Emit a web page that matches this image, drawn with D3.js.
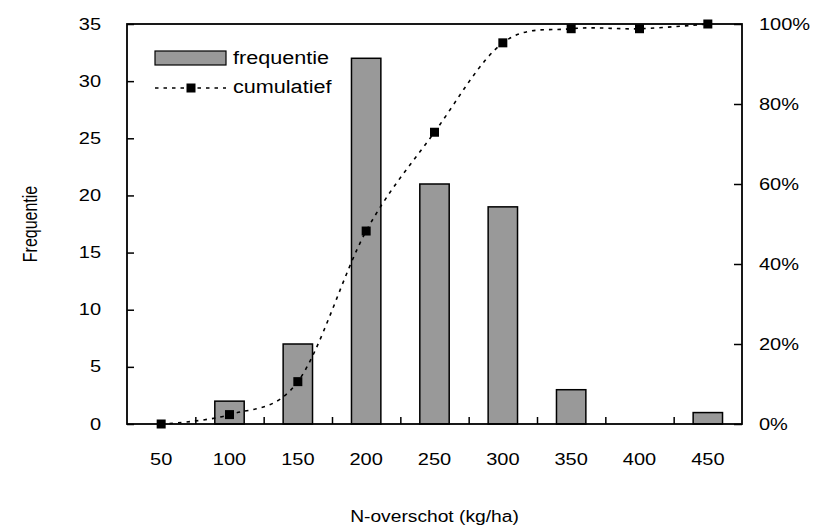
<!DOCTYPE html>
<html>
<head>
<meta charset="utf-8">
<script src="https://cdn.jsdelivr.net/npm/d3@7"></script>
<style>
  html, body { margin: 0; padding: 0; background: #fff; }
  svg { display: block; font-family: "Liberation Sans", Arial, sans-serif; }
  .axis text { font-size: 16px; fill: #000; }
</style>
</head>
<body>
<svg id="chart" width="817" height="527"></svg>
<script>
// N-overschot classes (kg/ha)
const categories = ["50", "100", "150", "200", "250", "300", "350", "400", "450"];
// Number of observations per class
const frequentie = [0, 2, 7, 32, 21, 19, 3, 0, 1];
// Cumulative share per class (fraction of total)
const cumulatief = [0, 0.0235, 0.1059, 0.4824, 0.7294, 0.9529, 0.9882, 0.9882, 1.0];
// Axis ticks
const leftTicks = [0, 5, 10, 15, 20, 25, 30, 35];
const rightTicks = [0, 0.2, 0.4, 0.6, 0.8, 1.0];

const svg = d3.select("#chart");
const W = 817, H = 527;
const m = { top: 24, right: 75, bottom: 103, left: 127 };
const x0 = m.left, x1 = W - m.right, y0 = H - m.bottom, y1 = m.top;

const x = d3.scaleBand().domain(categories).range([x0, x1]).padding(0);
const yL = d3.scaleLinear().domain([0, 35]).range([y0, y1]);
const yR = d3.scaleLinear().domain([0, 1]).range([y0, y1]);
const xSep = d3.scaleLinear().domain([0, categories.length]).range([x0, x1]);

const barW = x.bandwidth() * 0.43;

// Widen horizontal text glyphs a little (wide chart typography)
function widen(sel, k) {
  sel.each(function () {
    const w = this.getComputedTextLength();
    if (w > 0) {
      this.setAttribute("textLength", (w * k).toFixed(2));
      this.setAttribute("lengthAdjust", "spacingAndGlyphs");
    }
  });
}

// Bars
svg.append("g").selectAll("rect")
  .data(frequentie)
  .join("rect")
  .attr("x", (d, i) => x(categories[i]) + (x.bandwidth() - barW) / 2)
  .attr("y", d => yL(d))
  .attr("width", barW)
  .attr("height", d => y0 - yL(d))
  .attr("fill", "#999999")
  .attr("stroke", "#000")
  .attr("stroke-width", 1.5)
  .attr("display", d => d > 0 ? null : "none");

// Left axis (ticks point inward)
const gL = svg.append("g").attr("class", "axis")
  .attr("transform", `translate(${x0},0)`)
  .call(d3.axisLeft(yL).tickValues(leftTicks).tickSize(-7).tickPadding(26));
gL.select(".domain").remove();
gL.selectAll("line").attr("stroke", "#000").attr("stroke-width", 1.5);

// Right axis
const gR = svg.append("g").attr("class", "axis")
  .attr("transform", `translate(${x1},0)`)
  .call(d3.axisRight(yR).tickValues(rightTicks).tickFormat(d3.format(".0%")).tickSize(-8).tickPadding(17));
gR.select(".domain").remove();
gR.selectAll("line").attr("stroke", "#000").attr("stroke-width", 1.5);

// Bottom labels at class centres
const gB = svg.append("g").attr("class", "axis")
  .attr("transform", `translate(0,${y0})`)
  .call(d3.axisBottom(x).tickSize(0).tickPadding(30));
gB.select(".domain").remove();

// Bottom separator ticks between classes
const gS = svg.append("g")
  .attr("transform", `translate(0,${y0})`)
  .call(d3.axisBottom(xSep).tickValues(d3.range(1, categories.length)).tickSize(-7).tickFormat(""));
gS.select(".domain").remove();
gS.selectAll("line").attr("stroke", "#000").attr("stroke-width", 1.5);

// Plot frame
svg.append("rect")
  .attr("x", x0).attr("y", y1)
  .attr("width", x1 - x0).attr("height", y0 - y1)
  .attr("fill", "none").attr("stroke", "#000").attr("stroke-width", 1.8);

// Cumulative smoothed line
const cx = (d, i) => x(categories[i]) + x.bandwidth() / 2;
const line = d3.line()
  .x(cx)
  .y(d => yR(d))
  .curve(d3.curveCardinal.tension(0));
svg.append("path")
  .datum(cumulatief)
  .attr("d", line)
  .attr("fill", "none")
  .attr("stroke", "#000")
  .attr("stroke-width", 1.6)
  .attr("stroke-dasharray", "3.5,5");

// Markers
const ms = 9;
svg.append("g").selectAll("rect")
  .data(cumulatief)
  .join("rect")
  .attr("x", (d, i) => cx(d, i) - ms / 2)
  .attr("y", d => yR(d) - ms / 2)
  .attr("width", ms).attr("height", ms)
  .attr("fill", "#000");

// Legend
const lg = svg.append("g");
lg.append("rect")
  .attr("x", 155).attr("y", 51).attr("width", 71).attr("height", 14)
  .attr("fill", "#999999").attr("stroke", "#000").attr("stroke-width", 1.2);
const lt1 = lg.append("text").attr("x", 233).attr("y", 58).attr("dy", "0.35em")
  .attr("font-size", 18).text("frequentie");
lg.append("line")
  .attr("x1", 155).attr("x2", 226).attr("y1", 88).attr("y2", 88)
  .attr("stroke", "#000").attr("stroke-width", 1.6).attr("stroke-dasharray", "3.5,5");
lg.append("rect")
  .attr("x", 191 - ms / 2).attr("y", 88 - ms / 2).attr("width", ms).attr("height", ms)
  .attr("fill", "#000");
const lt2 = lg.append("text").attr("x", 233).attr("y", 87).attr("dy", "0.35em")
  .attr("font-size", 18).text("cumulatief");

// Axis titles
const xt = svg.append("text")
  .attr("x", (x0 + x1) / 2).attr("y", 516).attr("dy", "0.35em")
  .attr("text-anchor", "middle").attr("font-size", 16)
  .text("N-overschot (kg/ha)");
svg.append("text")
  .attr("transform", `translate(30,${(y0 + y1) / 2}) rotate(-90) scale(1,1.22)`)
  .attr("dy", "0.35em")
  .attr("text-anchor", "middle").attr("font-size", 16)
  .text("Frequentie");

widen(gL.selectAll("text"), 1.25);
widen(gR.selectAll("text"), 1.25);
widen(gB.selectAll("text"), 1.25);
widen(xt, 1.2);
widen(lt1, 1.2);
widen(lt2, 1.2);
</script>
</body>
</html>
